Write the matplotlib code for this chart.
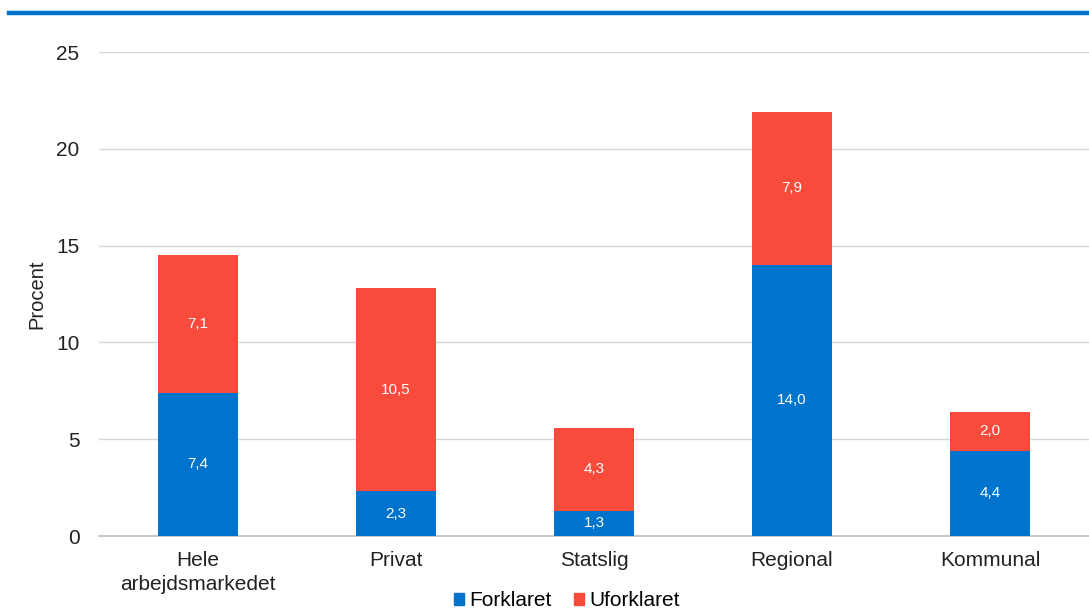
import numpy as np
import matplotlib.pyplot as plt
from matplotlib.patches import Patch
from matplotlib.lines import Line2D

categories = ['Hele\narbejdsmarkedet', 'Privat', 'Statslig', 'Regional', 'Kommunal']
forklaret = [7.4, 2.3, 1.3, 14.0, 4.4]
uforklaret = [7.1, 10.5, 4.3, 7.9, 2.0]

blue = '#0074CD'
red = '#F94B3B'

plt.rcParams['font.family'] = ['Liberation Sans', 'DejaVu Sans']

fig = plt.figure(figsize=(10.89, 6.09), dpi=100)
ax = fig.add_axes([99 / 1089, 1 - 536 / 609, 1 - 99 / 1089, (536 - 52) / 609])

x = np.arange(len(categories))
ax.bar(x, forklaret, width=0.4, color=blue, zorder=3, label='Forklaret')
ax.bar(x, uforklaret, width=0.4, bottom=forklaret, color=red, zorder=3, label='Uforklaret')

def fmt(v):
    return f'{v:.1f}'.replace('.', ',')

for i in range(len(categories)):
    ax.text(x[i], forklaret[i] / 2, fmt(forklaret[i]), ha='center', va='center',
            color='white', fontsize=11, zorder=4)
    ax.text(x[i], forklaret[i] + uforklaret[i] / 2, fmt(uforklaret[i]), ha='center',
            va='center', color='white', fontsize=11, zorder=4)

ax.set_xlim(-0.5, 4.5)
ax.set_ylim(0, 25)
ax.set_yticks([0, 5, 10, 15, 20, 25])
ax.set_xticks(x)
ax.set_xticklabels(categories, fontsize=15, color='#222222', linespacing=1.3)
ax.tick_params(axis='y', labelsize=15, colors='#222222', length=0, pad=14)
ax.tick_params(axis='x', length=0, pad=11)
ax.yaxis.grid(True, color='#d6d6d6', linewidth=1, zorder=0)
for s in ['top', 'right', 'left']:
    ax.spines[s].set_visible(False)
ax.spines['bottom'].set_color('#bfbfbf')
ax.spines['bottom'].set_linewidth(1.2)
ax.set_ylabel('Procent', fontsize=14.5, color='#222222')
ax.yaxis.set_label_coords((46 - 99) / 990, 0.5)

# top rule
fig.add_artist(Line2D([9 / 1089, 1.0], [1 - 13 / 609, 1 - 13 / 609],
                      color='#0074CD', linewidth=3.2, transform=fig.transFigure))

handles = [Patch(color=blue, label='Forklaret'), Patch(color=red, label='Uforklaret')]
fig.legend(handles=handles, loc='center', bbox_to_anchor=(567 / 1089, 1 - 601 / 609),
           ncol=2, frameon=False, fontsize=15, handlelength=0.5, handleheight=0.5,
           handletextpad=0.25, columnspacing=1.05, borderaxespad=0, borderpad=0)

fig.savefig('out.png', dpi=100)
